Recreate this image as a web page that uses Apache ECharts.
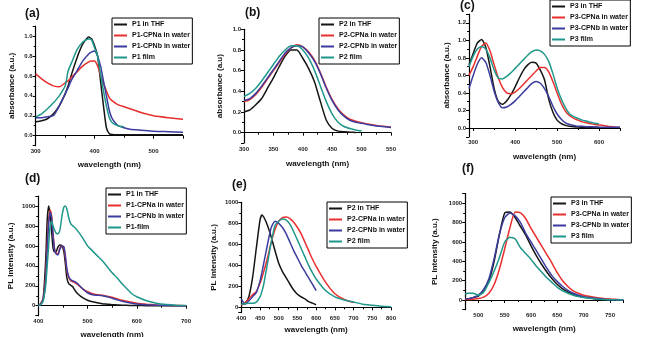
<!DOCTYPE html>
<html>
<head>
<meta charset="utf-8">
<script src="https://cdn.jsdelivr.net/npm/echarts@6/dist/echarts.min.js"></script>
<style>
  html, body { margin: 0; padding: 0; background: #fff; }
  #main { width: 648px; height: 337px; }
</style>
</head>
<body>
<div id="main"></div>
<script>
// (a) P1 absorbance
var xA = [300,310,320,330,340,350,355,360,370,380,390,395,400,405,410,415,420,425,430,440,450,460,480,500,525,550];
var aThf   = [0.14,0.15,0.17,0.22,0.30,0.42,0.50,0.60,0.78,0.92,0.99,0.97,0.90,0.80,0.55,0.30,0.08,0.02,0.012,0.01,0.01,0.01,0.01,0.01,0.01,0.01];
var aCpna  = [0.62,0.57,0.53,0.50,0.49,0.53,0.55,0.58,0.64,0.70,0.74,0.75,0.75,0.70,0.61,0.52,0.45,0.38,0.35,0.31,0.29,0.27,0.23,0.20,0.18,0.165];
var aCpnb  = [0.18,0.18,0.19,0.20,0.30,0.42,0.48,0.55,0.65,0.75,0.82,0.84,0.85,0.80,0.70,0.55,0.40,0.25,0.17,0.10,0.08,0.065,0.055,0.045,0.04,0.035];
var aFilm  = [0.19,0.22,0.27,0.33,0.40,0.50,0.65,0.72,0.86,0.94,0.97,0.96,0.88,0.80,0.62,0.45,0.30,0.18,0.13,0.10,0.09,null,null,null,null,null];

// (b) P2 absorbance
var xB = [300,310,320,330,340,350,360,370,380,390,400,410,420,430,440,450,460,470,480,490,500,510,520,530,540,550];
var bThf   = [0.20,0.22,0.27,0.33,0.43,0.53,0.64,0.74,0.80,0.80,0.72,0.62,0.49,0.30,0.12,0.04,0.015,0.008,0.005,0.002,null,null,null,null,null,null];
var bCpna  = [0.30,0.32,0.37,0.44,0.52,0.60,0.68,0.76,0.82,0.85,0.83,0.78,0.70,0.58,0.44,0.32,0.23,0.17,0.13,0.11,0.095,0.085,0.075,0.065,0.06,0.055];
var bCpnb  = [0.31,0.33,0.38,0.45,0.53,0.61,0.69,0.77,0.82,0.84,0.83,0.77,0.69,0.57,0.43,0.31,0.22,0.16,0.12,0.10,0.09,0.08,0.07,0.062,0.057,0.05];
var bFilm  = [0.35,0.38,0.43,0.50,0.58,0.66,0.74,0.80,0.84,0.84,0.80,0.72,0.60,0.45,0.30,0.18,0.10,0.06,0.04,0.025,0.015,null,null,null,null,null];

// (c) P3 absorbance
var xC = [290,300,310,320,330,340,350,360,370,380,390,400,410,420,430,440,450,460,470,480,490,500,510,520,530,540,550,560,570,580,590,600,610,620,630,640,650];
var cThf   = [0.72,0.85,0.97,1.01,0.92,0.70,0.45,0.30,0.27,0.31,0.38,0.47,0.57,0.66,0.72,0.75,0.74,0.66,0.55,0.33,0.18,0.09,0.05,0.03,0.02,0.015,0.012,0.01,0.01,0.01,0.01,0.01,null,null,null,null,null];
var cCpna  = [0.60,0.70,0.82,0.93,0.97,0.88,0.72,0.57,0.46,0.40,0.39,0.41,0.45,0.50,0.55,0.60,0.65,0.69,0.69,0.64,0.53,0.40,0.28,0.19,0.14,0.11,0.09,0.07,0.06,0.05,0.04,0.035,0.03,0.02,0.015,0.01,0.01];
var cCpnb  = [0.45,0.60,0.73,0.80,0.75,0.60,0.42,0.29,0.23,0.24,0.27,0.31,0.36,0.41,0.46,0.51,0.53,0.51,0.45,0.36,0.25,0.16,0.10,0.06,0.04,0.03,0.02,0.02,0.015,0.015,0.012,0.01,0.01,0.01,0.01,0.01,0.01];
var cFilm  = [0.70,0.82,0.90,0.93,0.90,0.80,0.66,0.57,0.56,0.59,0.63,0.68,0.73,0.78,0.83,0.87,0.89,0.88,0.84,0.76,0.62,0.46,0.33,0.23,0.16,0.13,0.11,0.09,0.08,0.065,0.055,0.05,null,null,null,null,null];

// (d) P1 PL
var xD = [400,405,410,415,418,421,424,427,430,433,436,440,444,448,452,455,458,462,466,470,475,480,490,500,510,520,530,540,550,560,570,580,590,600,620,640,660,680,700];
var dThf   = [0,20,80,450,850,1000,920,750,580,540,540,590,610,600,540,420,280,220,205,190,150,120,80,55,40,30,20,15,10,8,5,4,3,2,1,0,0,0,0];
var dCpna  = [0,20,70,300,600,860,960,900,720,570,530,520,580,600,580,480,350,280,250,240,230,210,170,140,120,110,105,95,85,70,55,45,35,25,15,8,4,2,0];
var dCpnb  = [0,15,60,260,560,820,940,880,700,560,520,510,570,600,590,500,370,290,260,250,240,220,170,130,110,105,100,90,75,60,45,35,25,18,10,5,3,1,0];
var dFilm  = [0,10,50,200,400,600,800,850,800,760,730,720,760,900,990,1000,970,880,820,800,780,750,680,600,550,500,450,390,330,280,220,170,120,90,50,25,12,5,2];

// (e) P2 PL
var xE = [400,410,420,430,440,450,455,460,470,480,490,500,510,520,530,540,550,560,570,580,590,600,625,650,675,700,725,750,775,800];
var eThf   = [30,40,100,280,560,830,880,860,780,670,540,420,340,280,220,165,125,100,80,55,40,25,null,null,null,null,null,null,null,null];
var eCpna  = [20,40,80,120,150,230,280,340,470,620,740,820,855,860,845,810,760,700,620,540,460,390,240,130,75,45,null,null,null,null];
var eCpnb  = [80,30,60,100,140,250,330,420,600,760,820,800,760,700,620,540,470,400,340,280,220,160,null,null,null,null,null,null,null,null];
var eFilm  = [30,35,40,40,50,100,150,220,420,620,780,820,840,830,790,720,640,560,480,400,330,270,160,100,70,50,30,20,10,5];

// (f) P3 PL
var xF = [475,480,490,500,510,520,530,540,550,560,570,580,590,600,610,620,630,640,650,660,670,680,690,700,710,720,730,740,750,760,770,775];
var fThf   = [10,12,25,40,100,200,400,680,900,910,850,760,670,560,460,370,290,220,160,115,85,60,40,28,20,14,10,7,5,3,2,2];
var fCpna  = [5,5,8,15,30,70,160,320,530,750,910,900,840,740,650,560,470,380,280,200,140,95,70,50,38,28,20,14,10,7,4,3];
var fCpnb  = [10,12,25,50,110,220,430,680,850,900,870,800,690,600,510,420,330,250,190,140,100,70,50,35,25,18,12,8,5,3,2,2];
var fFilm  = [60,70,70,50,80,180,300,440,600,650,630,540,480,420,350,290,230,180,130,95,70,50,35,25,18,12,8,5,3,2,1,1];

var BLACK = '#151515', RED = '#e8302f', BLUE = '#3a3d9e', TEAL = '#1f978a';
var FONT = 'Liberation Sans, Arial, sans-serif';

var panels = [
  { x: xA, ys: [aThf, aCpna, aCpnb, aFilm], names: ['P1 in THF','P1-CPNa in water','P1-CPNb in water','P1 film'],
    grid: [35.7, 26, 147.3, 119.7], xr: [300, 550, 100], yr: [-0.1, 1.1, 0.2, 1], yname: 'absorbance (a.u.)', ygap: 20, xgap: 15,
    legend: [112, 18], label: '(a)', lpos: [25, 8] },
  { x: xB, ys: [bThf, bCpna, bCpnb, bFilm], names: ['P2 in THF','P2-CPNa in water','P2-CPNb in water','P2 film'],
    grid: [244, 29.3, 147, 113.7], xr: [300, 550, 50], yr: [-0.1, 1.0, 0.2, 1], yname: 'absorbance (a.u)', ygap: 20, xgap: 17,
    legend: [319, 18], label: '(b)', lpos: [245, 7] },
  { x: xC, ys: [cThf, cCpna, cCpnb, cFilm], names: ['P3 in THF','P3-CPNa in water','P3-CPNb in water','P3 film'],
    grid: [469, 14, 151, 122.8], xr: [290, 650, 100], yr: [-0.1, 1.3, 0.2, 1], yname: 'absorbance (a.u.)', ygap: 18, xgap: 16,
    legend: [550, 0], label: '(c)', lpos: [460, 0] },
  { x: xD, ys: [dThf, dCpna, dCpnb, dFilm], names: ['P1 in THF','P1-CPNa in water','P1-CPNb in water','P1-film'],
    grid: [38.3, 196, 147.7, 119.7], xr: [400, 700, 100], yr: [-100, 1100, 200, 0], yname: 'PL Intensity (a.u.)', ygap: 24, xgap: 15,
    legend: [106, 188], label: '(d)', lpos: [25, 173] },
  { x: xE, ys: [eThf, eCpna, eCpnb, eFilm], names: ['P2 in THF','P2-CPNa in water','P2-CPNb in water','P2 film'],
    grid: [241.3, 202.3, 149.7, 110.3], xr: [400, 800, 50], yr: [-50, 1000, 200, 0], yname: 'PL Intensity (a.u.)', ygap: 24, xgap: 13,
    legend: [327, 202], label: '(e)', lpos: [232, 179] },
  { x: xF, ys: [fThf, fCpna, fCpnb, fFilm], names: ['P3 in THF','P3-CPNa in water','P3-CPNb in water','P3 film'],
    grid: [465.2, 193.6, 158, 116.1], xr: [475, 775, 50], yr: [-100, 1100, 200, 0], yname: 'PL Intensity (a.u.)', ygap: 26, xgap: 15,
    legend: [551, 197], label: '(f)', lpos: [462, 163] }
];
var colors = [BLACK, RED, BLUE, TEAL];

function onStep(step, digits) {
  return function (v) {
    var k = v / step;
    return Math.abs(k - Math.round(k)) < 1e-6 ? v.toFixed(digits) : '';
  };
}

var grids = [], xAxes = [], yAxes = [], series = [], legends = [], titles = [];
panels.forEach(function (p, i) {
  grids.push({ left: p.grid[0], top: p.grid[1], width: p.grid[2], height: p.grid[3], outerBoundsMode: 'none' });
  var axisCommon = {
    axisLine: { lineStyle: { color: '#000', width: 1.2 } },
    axisTick: { length: 3, lineStyle: { color: '#000' } },
    minorTick: { show: true, splitNumber: 2, length: 2, lineStyle: { color: '#000' } },
    splitLine: { show: false },
    nameLocation: 'middle',
    nameTextStyle: { fontFamily: FONT, fontWeight: 'bold', fontSize: 8, color: '#111' }
  };
  xAxes.push(Object.assign({}, axisCommon, {
    type: 'value', gridIndex: i, min: p.xr[0], max: p.xr[1], minInterval: p.xr[2], maxInterval: p.xr[2],
    name: 'wavelength (nm)', nameGap: p.xgap,
    axisLabel: { fontFamily: FONT, fontWeight: 'bold', fontSize: 6, color: '#222', margin: 3, formatter: onStep(p.xr[2], 0) }
  }));
  yAxes.push(Object.assign({}, axisCommon, {
    type: 'value', gridIndex: i, min: p.yr[0], max: p.yr[1], minInterval: p.yr[2], maxInterval: p.yr[2],
    name: p.yname, nameGap: p.ygap,
    axisLabel: { fontFamily: FONT, fontWeight: 'bold', fontSize: 6, color: '#222', margin: 3, formatter: onStep(p.yr[2], p.yr[3]) }
  }));
  p.ys.forEach(function (ys, k) {
    series.push({
      type: 'line', name: p.names[k], xAxisIndex: i, yAxisIndex: i,
      data: p.x.map(function (xv, j) { return [xv, ys[j]]; }),
      symbol: 'none', smooth: 0.2, connectNulls: false,
      color: colors[k], lineStyle: { color: colors[k], width: 1.5 }
    });
  });
  legends.push({
    data: p.names, orient: 'vertical', left: p.legend[0], top: p.legend[1],
    icon: 'rect', itemWidth: 13, itemHeight: 2, itemGap: 2, padding: [2, 2, 2, 2],
    borderColor: '#000', borderWidth: 1, borderRadius: 0, selectedMode: false,
    textStyle: { fontFamily: FONT, fontWeight: 'bold', fontSize: 7, lineHeight: 9, color: '#111' }
  });
  titles.push({ text: p.label, left: p.lpos[0], top: p.lpos[1], padding: 0,
    textStyle: { fontFamily: FONT, fontWeight: 'bold', fontSize: 12, color: '#111' } });
});

var chart = echarts.init(document.getElementById('main'));
chart.setOption({
  animation: false,
  backgroundColor: '#fff',
  title: titles,
  legend: legends,
  grid: grids,
  xAxis: xAxes,
  yAxis: yAxes,
  series: series
});
</script>
</body>
</html>
